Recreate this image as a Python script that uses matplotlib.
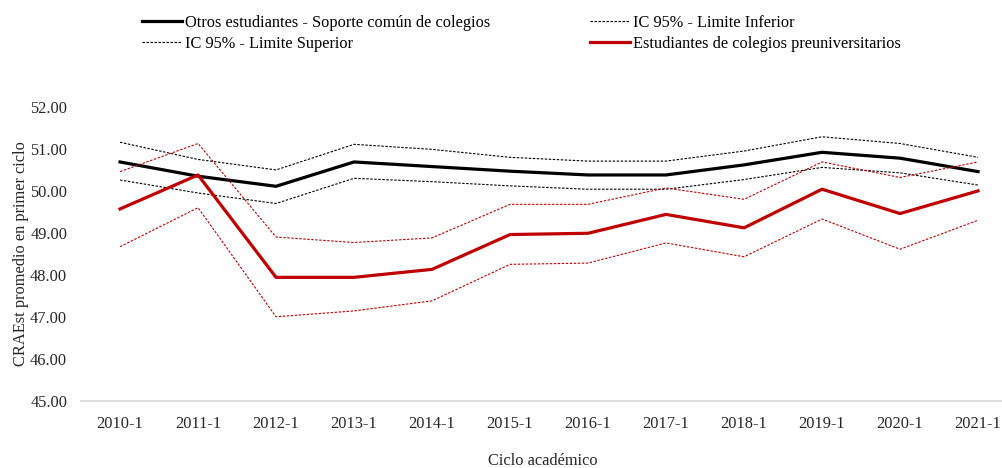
import numpy as np
import matplotlib
matplotlib.use('Agg')
import matplotlib.pyplot as plt

plt.rcParams['font.family'] = ['Liberation Serif', 'DejaVu Serif']

ciclos = ['2010-1', '2011-1', '2012-1', '2013-1', '2014-1', '2015-1',
          '2016-1', '2017-1', '2018-1', '2019-1', '2020-1', '2021-1']

# otros estudiantes (soporte comun) y su IC 95%
otros = [50.69, 50.35, 50.11, 50.69, 50.58, 50.47, 50.38, 50.38, 50.62, 50.92, 50.78, 50.46]
otros_sup = [51.16, 50.75, 50.50, 51.11, 50.99, 50.80, 50.71, 50.71, 50.95, 51.29, 51.13, 50.80]
otros_inf = [50.26, 49.95, 49.70, 50.30, 50.22, 50.12, 50.04, 50.04, 50.27, 50.56, 50.43, 50.14]

# estudiantes de colegios preuniversitarios y su IC 95%
preu = [49.57, 50.38, 47.94, 47.94, 48.13, 48.96, 48.99, 49.44, 49.12, 50.04, 49.46, 50.00]
preu_sup = [50.46, 51.13, 48.90, 48.77, 48.88, 49.68, 49.68, 50.07, 49.80, 50.69, 50.32, 50.69]
preu_inf = [48.67, 49.60, 47.00, 47.14, 47.38, 48.25, 48.28, 48.76, 48.43, 49.33, 48.61, 49.30]

rojo = '#c00000'
punteado = (0, (2.2, 1.4))
fs = 11.8

fig = plt.figure(figsize=(10.03, 4.68), dpi=100)
ax = fig.add_axes([0.0808, 0.1438, 0.9332, 0.6276])

x = np.arange(len(ciclos))
l_otros, = ax.plot(x, otros, color='black', linewidth=2.3,
                   label='Otros estudiantes - Soporte común de colegios')
l_inf, = ax.plot(x, otros_inf, color='black', linewidth=0.8, linestyle=punteado,
                 label='IC 95% - Limite Inferior')
l_sup, = ax.plot(x, otros_sup, color='black', linewidth=0.8, linestyle=punteado,
                 label='IC 95% - Limite Superior')
ax.plot(x, preu_sup, color=rojo, linewidth=0.8, linestyle=punteado)
ax.plot(x, preu_inf, color=rojo, linewidth=0.8, linestyle=punteado)
l_preu, = ax.plot(x, preu, color=rojo, linewidth=2.3,
                  label='Estudiantes de colegios preuniversitarios')

ax.set_xlim(-0.5, len(ciclos) - 0.5)
ax.set_ylim(45, 52)
ax.set_xticks(x)
ax.set_xticklabels(ciclos)
ax.set_yticks(np.arange(45, 53, 1))
ax.set_yticklabels(['%.2f' % v for v in np.arange(45, 53, 1)])
ax.tick_params(axis='both', length=0, labelsize=fs, colors='#262626')
ax.tick_params(axis='y', pad=10)
ax.tick_params(axis='x', pad=11)

for s in ['top', 'right', 'left']:
    ax.spines[s].set_visible(False)
ax.spines['bottom'].set_color('#d9d9d9')
ax.spines['bottom'].set_linewidth(1.2)

ax.set_ylabel('CRAEst promedio en primer ciclo', fontsize=fs, color='#262626')
ax.yaxis.set_label_coords(-0.056, 0.5)
ax.set_xlabel('Ciclo académico', fontsize=fs, color='#262626')
ax.xaxis.set_label_coords(0.4936, -0.178)

fig.legend(handles=[l_otros, l_sup, l_inf, l_preu], ncol=2, frameon=False,
           loc='upper left', bbox_to_anchor=(0.1336, 0.9855), fontsize=fs,
           borderpad=0, handlelength=2.44, handletextpad=0.18, columnspacing=6.1,
           labelspacing=0.3)

plt.savefig('out.png', dpi=100)
